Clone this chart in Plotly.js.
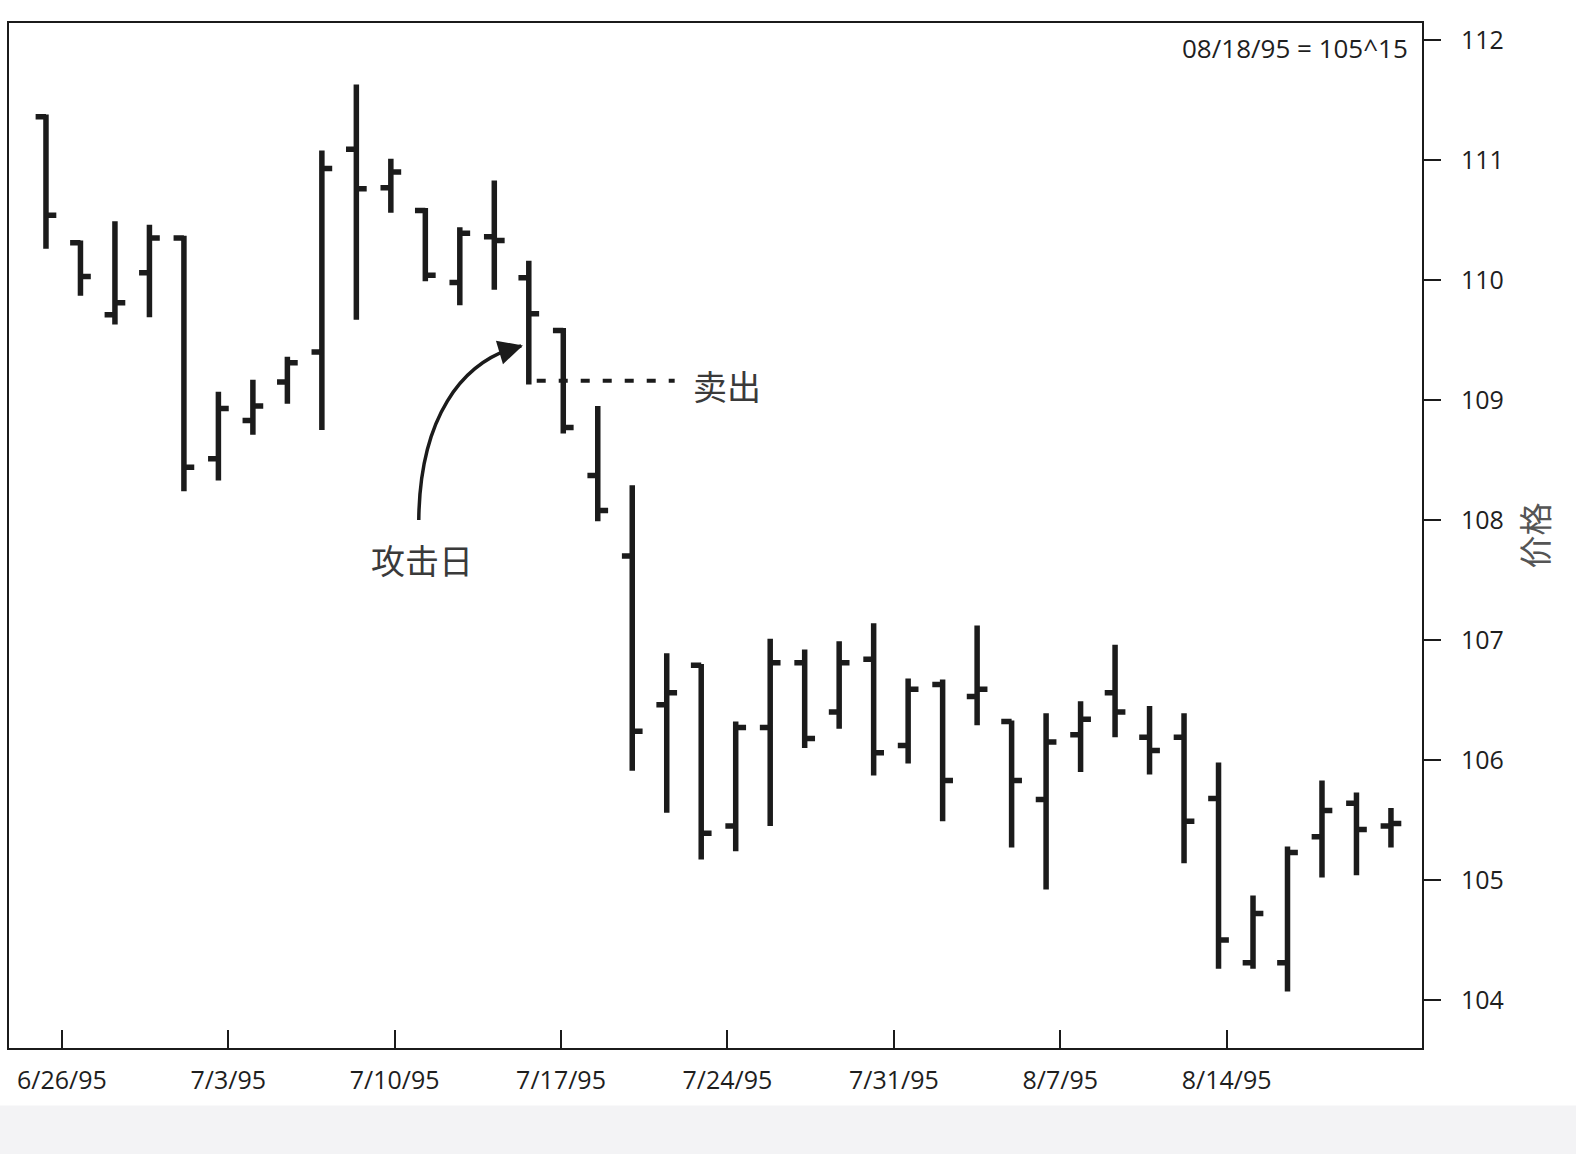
<!DOCTYPE html>
<html>
<head>
<meta charset="utf-8">
<script src="https://cdn.plot.ly/plotly-3.0.1.min.js"></script>
<style>
  html, body { margin: 0; padding: 0; background: #ffffff; }
  #chart { width: 1576px; height: 1154px; }
</style>
</head>
<body>
<div id="chart"></div>
<script>
// Trading days (bar dates), 6/23/95 .. 8/18/95 (7/4 holiday skipped)
const dates = ['6/23/95','6/26/95','6/27/95','6/28/95','6/29/95','6/30/95','7/3/95','7/5/95','7/6/95','7/7/95',
  '7/10/95','7/11/95','7/12/95','7/13/95','7/14/95','7/17/95','7/18/95','7/19/95','7/20/95','7/21/95',
  '7/24/95','7/25/95','7/26/95','7/27/95','7/28/95','7/31/95','8/1/95','8/2/95','8/3/95','8/4/95',
  '8/7/95','8/8/95','8/9/95','8/10/95','8/11/95','8/14/95','8/15/95','8/16/95','8/17/95','8/18/95'];

const opens  = [111.36,110.31,109.71,110.06,110.35,108.51,108.83,109.15,109.40,111.09,
                110.77,110.58,109.98,110.36,110.02,109.58,108.37,107.70,106.46,106.79,
                105.45,106.27,106.81,106.40,106.84,106.12,106.63,106.53,106.32,105.67,
                106.21,106.56,106.19,106.19,105.68,104.31,104.31,105.36,105.64,105.45];
const highs  = [111.38,110.33,110.49,110.46,110.37,109.07,109.17,109.36,111.08,111.63,
                111.01,110.60,110.44,110.83,110.16,109.60,108.95,108.29,106.89,106.80,
                106.32,107.01,106.92,106.99,107.14,106.68,106.67,107.12,106.33,106.39,
                106.49,106.96,106.45,106.39,105.98,104.87,105.28,105.83,105.73,105.60];
const lows   = [110.26,109.87,109.63,109.69,108.24,108.33,108.71,108.97,108.75,109.67,
                110.56,109.99,109.79,109.92,109.13,108.72,107.99,105.91,105.56,105.17,
                105.24,105.45,106.10,106.26,105.87,105.97,105.49,106.29,105.27,104.92,
                105.90,106.19,105.88,105.14,104.26,104.26,104.07,105.02,105.04,105.27];
const closes = [110.54,110.03,109.81,110.35,108.44,108.93,108.95,109.31,110.93,110.76,
                110.90,110.04,110.39,110.33,109.72,108.77,108.08,106.24,106.56,105.39,
                106.27,106.81,106.18,106.81,106.06,106.59,105.83,106.59,105.83,106.15,
                106.34,106.40,106.08,105.49,104.50,104.72,105.23,105.58,105.42,105.47];

const xTickLabels = ['6/26/95','7/3/95','7/10/95','7/17/95','7/24/95','7/31/95','8/7/95','8/14/95'];
const yTickValues = [104,105,106,107,108,109,110,111,112];

const attackDate = '7/14/95';
const sellLevel = 109.16;
const cornerNote = '08/18/95 = 105^15';
const labelAttack = '攻击日';
const labelSell = '卖出';
const yTitle = '价格';

// ---- layout helpers ----
const xIdx = dates.map((d, i) => i);
const attackIdx = dates.indexOf(attackDate);
const tickStart = 0.46, tickStep = 4.825;
const xTickVals = xTickLabels.map((t, i) => tickStart + i * tickStep);

const ink = '#1b1b1b';
const tickFont = { family: 'Open Sans, Noto Sans, sans-serif', size: 25, color: '#1e1e1e' };
const cjkFont = { family: 'Noto Sans CJK SC, sans-serif', size: 34, color: '#3a3a3a' };

const trace = {
  type: 'ohlc',
  x: xIdx,
  open: opens, high: highs, low: lows, close: closes,
  increasing: { line: { color: ink, width: 5.5 } },
  decreasing: { line: { color: ink, width: 5.5 } },
  tickwidth: 0.3,
  hoverinfo: 'skip',
  showlegend: false
};

// curved arrow (annotation geometry relative to the attack-day bar)
const a0x = attackIdx - 3.19, a0y = 108.0;
const c1x = attackIdx - 3.16, c1y = 108.83;
const c2x = attackIdx - 2.0,  c2y = 109.33;
const a1x = attackIdx - 0.22, a1y = 109.45;

const layout = {
  width: 1576, height: 1154,
  margin: { l: 9, r: 154, t: 23, b: 106 },
  paper_bgcolor: '#ffffff',
  plot_bgcolor: '#ffffff',
  showlegend: false,
  xaxis: {
    type: 'linear',
    range: [-1.072, 39.90],
    tickmode: 'array',
    tickvals: xTickVals,
    ticktext: xTickLabels,
    ticks: 'inside', ticklen: 18, tickwidth: 2, tickcolor: ink,
    ticklabelstandoff: 9,
    showline: true, linewidth: 2, linecolor: ink, mirror: true,
    showgrid: false, zeroline: false,
    tickfont: tickFont,
    rangeslider: { visible: false },
    fixedrange: true
  },
  yaxis: {
    side: 'right',
    range: [103.6, 112.142],
    tickmode: 'array',
    tickvals: yTickValues,
    ticktext: yTickValues.map(String),
    ticks: 'outside', ticklen: 17, tickwidth: 2, tickcolor: ink,
    ticklabelstandoff: 15,
    showline: true, linewidth: 2, linecolor: ink, mirror: true,
    showgrid: false, zeroline: false,
    tickfont: tickFont,
    title: { text: yTitle, font: { family: 'Noto Sans CJK SC, sans-serif', size: 33, color: '#555555' }, standoff: 22 },
    fixedrange: true
  },
  shapes: [
    // light scan strip at the bottom of the page
    { type: 'rect', xref: 'paper', yref: 'paper', x0: -0.01, x1: 1.12, y0: -0.056, y1: -0.12,
      fillcolor: '#f3f3f5', line: { width: 0 }, layer: 'below' },
    // dashed sell line
    { type: 'line', xref: 'x', yref: 'y', x0: attackIdx + 0.23, x1: attackIdx + 4.23, y0: sellLevel, y1: sellLevel,
      line: { color: ink, width: 4, dash: '9px,13px' } },
    // curved arrow body
    { type: 'path', xref: 'x', yref: 'y',
      path: `M${a0x},${a0y} C${c1x},${c1y} ${c2x},${c2y} ${a1x},${a1y}`,
      line: { color: ink, width: 3.5 } }
  ],
  annotations: [
    { xref: 'paper', yref: 'paper', x: 1, y: 1, xanchor: 'right', yanchor: 'top',
      xshift: -12, yshift: -5, text: cornerNote, showarrow: false,
      font: { family: 'Open Sans, Noto Sans, sans-serif', size: 26, color: '#1e1e1e' } },
    { xref: 'x', yref: 'y', x: attackIdx + 4.7, y: sellLevel - 0.04, xanchor: 'left', yanchor: 'middle',
      text: labelSell, showarrow: false, font: cjkFont },
    { xref: 'x', yref: 'y', x: attackIdx - 3.1, y: 107.675, xanchor: 'center', yanchor: 'middle',
      text: labelAttack, showarrow: false, font: cjkFont },
    // arrow head
    { xref: 'x', yref: 'y', x: a1x + 0.05, y: a1y + 0.005, text: '', showarrow: true,
      ax: -20, ay: 6, arrowhead: 2, arrowsize: 1.4, arrowwidth: 3.5, arrowcolor: ink }
  ]
};

Plotly.newPlot('chart', [trace], layout, { displayModeBar: false, staticPlot: true });
</script>
</body>
</html>
